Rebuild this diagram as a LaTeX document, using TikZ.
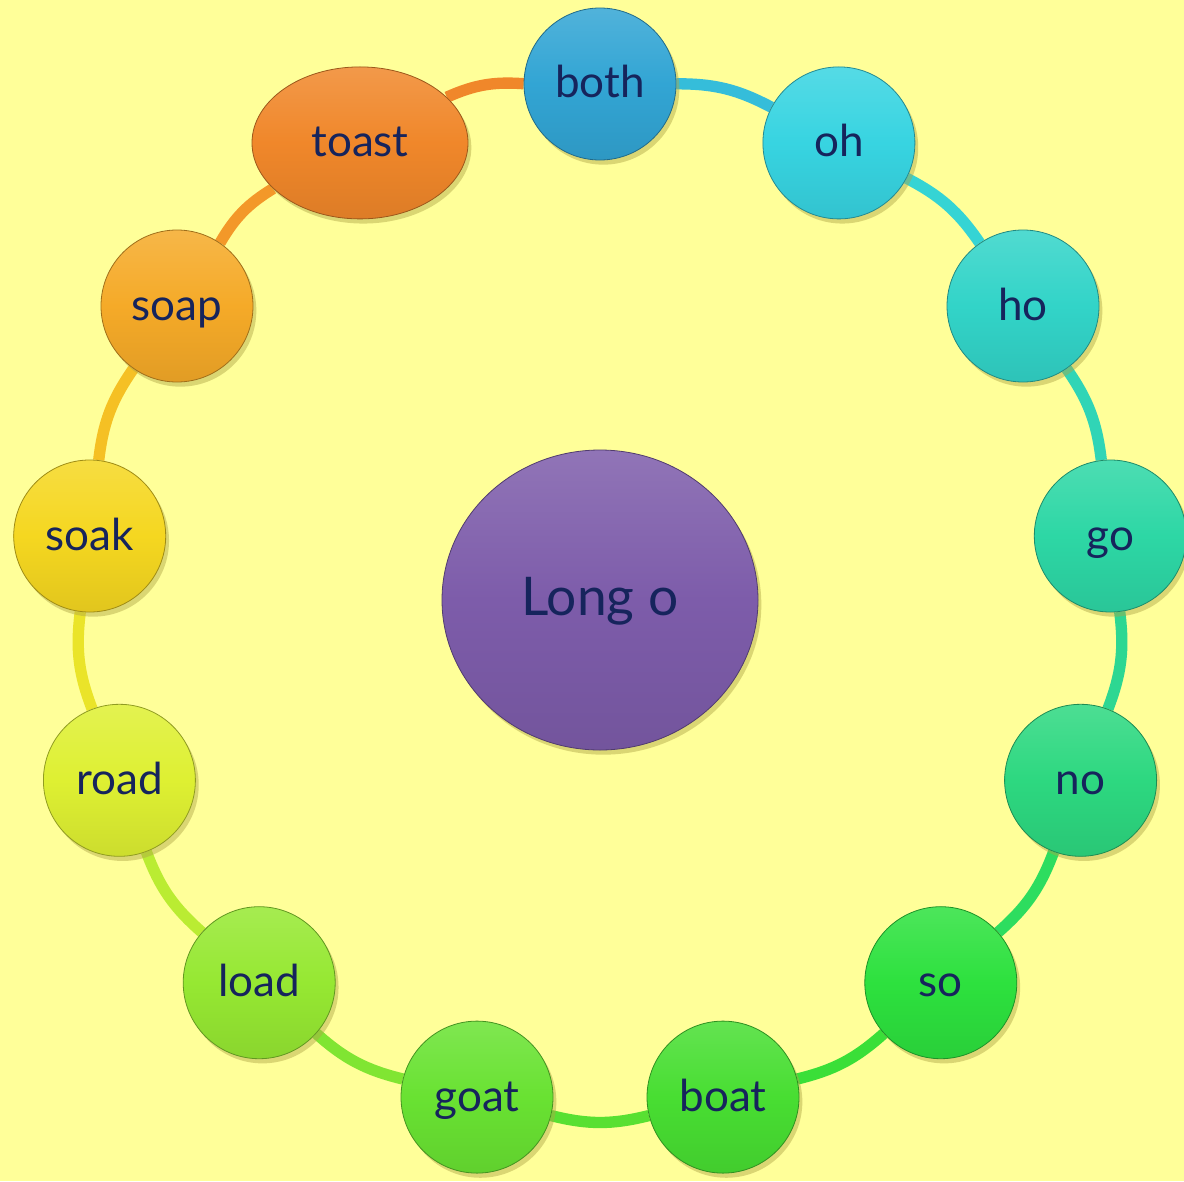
\documentclass[tikz,border=0pt]{standalone}
\usepackage{fontspec}
\setmainfont{Lato}
\usetikzlibrary{shapes.geometric,shadows,backgrounds}
\definecolor{bg}{RGB}{255,255,153}
\definecolor{txt}{RGB}{22,36,92}
\definecolor{shd}{RGB}{175,165,70}
\definecolor{cboth}{RGB}{50,165,212}
\definecolor{coh}{RGB}{55,212,225}
\definecolor{cho}{RGB}{50,212,200}
\definecolor{cgo}{RGB}{45,215,165}
\definecolor{cno}{RGB}{45,216,128}
\definecolor{cso}{RGB}{45,225,62}
\definecolor{cboat}{RGB}{72,222,50}
\definecolor{cgoat}{RGB}{105,226,50}
\definecolor{cload}{RGB}{150,232,50}
\definecolor{croad}{RGB}{222,240,50}
\definecolor{csoak}{RGB}{245,215,32}
\definecolor{csoap}{RGB}{245,170,40}
\definecolor{ctoast}{RGB}{240,135,42}
\definecolor{cmain}{RGB}{125,92,170}
\tikzset{
  ball/.style={top color=#1!85!white, bottom color=#1!92!black, middle color=#1,
    draw=#1!65!black, line width=0.6pt, inner sep=0pt, text=txt,
    drop shadow={shadow xshift=2.5pt, shadow yshift=-3.5pt, fill=shd, opacity=0.45}},
  word/.style={ball=#1, circle, minimum size=114pt,
    font=\fontsize{33}{40}\selectfont, text height=24pt, text depth=3pt},
  ring/.style={line width=8.5pt, draw=#1}
}
\begin{document}
\begin{tikzpicture}[x=0.75pt,y=-0.75pt]
\useasboundingbox (0,0) rectangle (1184,1181);
\node[word=cboth] (both) at (600,84) {both};
\node[word=coh] (oh) at (838.9,142.9) {oh};
\node[word=cho] (ho) at (1023,306) {ho};
\node[word=cgo] (go) at (1110.3,536) {go};
\node[word=cno] (no) at (1080.6,780.3) {no};
\node[word=cso] (so) at (940.8,982.7) {so};
\node[word=cboat] (boat) at (723,1097.1) {boat};
\node[word=cgoat] (goat) at (477,1097.1) {goat};
\node[word=cload] (load) at (259.2,982.7) {load};
\node[word=croad] (road) at (119.4,780.3) {road};
\node[word=csoak] (soak) at (89.7,536) {soak};
\node[word=csoap] (soap) at (177,306) {soap};
\node[word=ctoast, ellipse, minimum width=162pt, minimum height=114pt] (toast) at (360,142.9) {toast};
\node[ball=cmain, ellipse, minimum width=237pt, minimum height=225pt,
  font=\fontsize{40}{48}\selectfont, text height=28pt, text depth=5.5pt] (main) at (600,600) {Long o};
\begin{scope}[on background layer]
\fill[bg] (0,0) rectangle (1184,1181);
\draw[ring=cboth!50!coh] (both) to[bend left=14] (oh);
\draw[ring=coh!50!cho] (oh) to[bend left=14] (ho);
\draw[ring=cho!50!cgo] (ho) to[bend left=14] (go);
\draw[ring=cgo!50!cno] (go) to[bend left=14] (no);
\draw[ring=cno!50!cso] (no) to[bend left=14] (so);
\draw[ring=cso!50!cboat] (so) to[bend left=14] (boat);
\draw[ring=cboat!50!cgoat] (boat) to[bend left=14] (goat);
\draw[ring=cgoat!50!cload] (goat) to[bend left=14] (load);
\draw[ring=cload!50!croad] (load) to[bend left=14] (road);
\draw[ring=croad!50!csoak] (road) to[bend left=14] (soak);
\draw[ring=csoak!50!csoap] (soak) to[bend left=14] (soap);
\draw[ring=csoap!50!ctoast] (soap) to[bend left=14] (toast);
\draw[ring=ctoast] (toast) to[bend left=14] (both);
\end{scope}
\end{tikzpicture}
\end{document}
